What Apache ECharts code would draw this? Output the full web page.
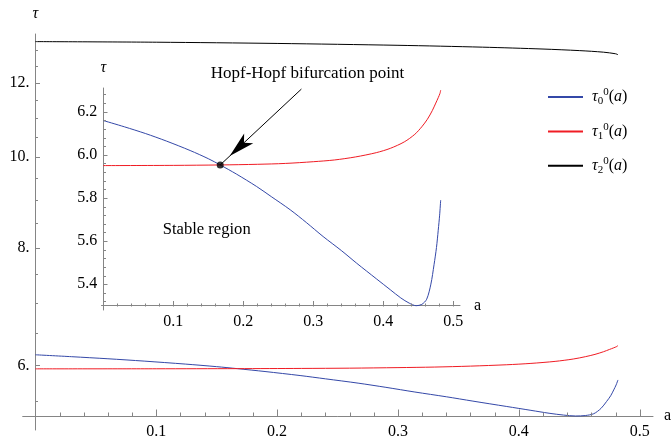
<!DOCTYPE html>
<html>
<head>
<meta charset="utf-8">
<script src="https://cdn.jsdelivr.net/npm/echarts@6.0.0/dist/echarts.min.js"></script>
<style>
  html, body { margin: 0; padding: 0; background: #ffffff; }
  #chart { width: 672px; height: 440px; }
</style>
</head>
<body>
<div id="chart"></div>
<script>
// Critical delays tau_k^0(a) as functions of the parameter a.

// tau_0^0(a)
const aTau0 = [0, 0.03, 0.06, 0.09, 0.124, 0.15, 0.167, 0.19, 0.219, 0.24, 0.267, 0.29, 0.314, 0.34,
               0.362, 0.39, 0.41, 0.425, 0.437, 0.447, 0.455, 0.462, 0.468, 0.4725, 0.476, 0.4785, 0.4805, 0.482];
const tau0  = [6.159, 6.130, 6.099, 6.064, 6.020, 5.982, 5.953, 5.911, 5.853, 5.806, 5.745, 5.686, 5.621, 5.556,
               5.497, 5.425, 5.374, 5.336, 5.312, 5.300, 5.306, 5.330, 5.400, 5.490, 5.570, 5.650, 5.720, 5.790];

// tau_1^0(a)
const aTau1 = [0, 0.1, 0.167, 0.22, 0.26, 0.3, 0.33, 0.36, 0.39, 0.41, 0.43, 0.445, 0.455, 0.463,
               0.47, 0.475, 0.4785, 0.481, 0.482];
const tau1  = [5.950, 5.951, 5.953, 5.956, 5.960, 5.968, 5.976, 5.990, 6.010, 6.030, 6.060, 6.095, 6.130, 6.165,
               6.205, 6.240, 6.265, 6.285, 6.300];

// tau_2^0(a)
const aTau2 = [0, 0.1, 0.2, 0.3, 0.37, 0.42, 0.45, 0.47, 0.48, 0.482];
const tau2  = [13.28, 13.26, 13.22, 13.16, 13.10, 13.04, 12.99, 12.94, 12.89, 12.86];

// Hopf-Hopf point (where tau_0 meets tau_1) and the tail of the arrow pointing at it
const hopfPoint = [0.167, 5.953];
const arrowTail = [0.283, 6.305];

// Tick positions
const aMajorTicks = [0.1, 0.2, 0.3, 0.4, 0.5];
const aMinorTicks = [0.02, 0.04, 0.06, 0.08, 0.12, 0.14, 0.16, 0.18, 0.22, 0.24, 0.26, 0.28,
                     0.32, 0.34, 0.36, 0.38, 0.42, 0.44, 0.46, 0.48];
const tauMajorTicks = [6, 8, 10, 12];
const tauMinorTicks = [5.5, 6.5, 7, 7.5, 8.5, 9, 9.5, 10.5, 11, 11.5, 12.5, 13];
const zoomMajorTicks = [5.4, 5.6, 5.8, 6.0, 6.2];
const zoomMinorTicks = [5.32, 5.36, 5.44, 5.48, 5.52, 5.56, 5.64, 5.68, 5.72, 5.76, 5.84, 5.88,
                        5.92, 5.96, 6.04, 6.08, 6.12, 6.16, 6.24, 6.28];

// Value of tau where the a-axis is drawn in both panels
const tauAxisBase = 5.3;

const seriesNames = ['tau0', 'tau1', 'tau2'];
const seriesIndexText = { tau0: '0', tau1: '1', tau2: '2' };

const FONT = '"Liberation Serif", "Times New Roman", serif';
const AXIS_GREY = '#858585';
const BLUE = '#3448a8';
const RED = '#f01c24';
const BLACK = '#000000';
const LABEL_SIZE = 16;

function pairs(xs, ys) { return xs.map((x, i) => [x, ys[i]]); }

function aAxis(grid, min, max, offset, nameGap) {
  return {
    gridIndex: grid, type: 'value', min: min, max: max, position: 'bottom', offset: offset,
    axisLine: { show: true, onZero: false, lineStyle: { color: AXIS_GREY, width: 1 } },
    axisTick: { show: false },
    axisLabel: { show: true, customValues: aMajorTicks, formatter: v => Number(v).toFixed(1), color: '#000',
                 fontFamily: FONT, fontSize: LABEL_SIZE, margin: 8 },
    splitLine: { show: false },
    name: 'a', nameLocation: 'end', nameGap: nameGap,
    nameTextStyle: { fontFamily: FONT, fontSize: LABEL_SIZE, color: '#000' }
  };
}
function tauAxis(grid, type, min, max, offset, labels, fmt, nameGap) {
  const ax = {
    gridIndex: grid, type: type, min: min, max: max, position: 'left', offset: offset,
    axisLine: { show: true, onZero: false, lineStyle: { color: AXIS_GREY, width: 1 } },
    axisTick: { show: false },
    axisLabel: { show: true, customValues: labels, formatter: fmt, color: '#000',
                 fontFamily: FONT, fontSize: LABEL_SIZE, margin: 6 },
    splitLine: { show: false },
    name: 'τ', nameLocation: 'end', nameGap: nameGap,
    nameTextStyle: { fontFamily: FONT, fontSize: LABEL_SIZE, fontStyle: 'italic', color: '#000' }
  };
  if (type === 'log') ax.logBase = 10;
  return ax;
}

function curve(name, xs, ys, color, axisIdx) {
  return {
    name: name, type: 'line', xAxisIndex: axisIdx, yAxisIndex: axisIdx,
    data: pairs(xs, ys), showSymbol: false, symbol: 'none', smooth: 0.3,
    lineStyle: { color: color, width: 1 }, itemStyle: { color: color },
    animation: false, silent: true
  };
}

const chart = echarts.init(document.getElementById('chart'), null, { renderer: 'canvas' });

chart.setOption({
  backgroundColor: '#ffffff',
  animation: false,
  textStyle: { fontFamily: FONT },
  grid: [
    { left: 22.7, top: 34, width: 630.3, height: 396, containLabel: false, outerBoundsMode: 'none' },
    { left: 101.5, top: 88, width: 358.5, height: 222, containLabel: false, outerBoundsMode: 'none' }
  ],
  xAxis: [
    aAxis(0, -0.0105, 0.511, -14, 11),
    aAxis(1, -0.0026, 0.5096, -4.3, 14)
  ],
  yAxis: [
    tauAxis(0, 'log', 5.121, 13.53, -12.7, tauMajorTicks, v => Math.round(v) + '.', 12),
    tauAxis(1, 'value', 5.28, 6.31, -1.8, zoomMajorTicks, v => Number(v).toFixed(1), 12)
  ],
  legend: {
    data: seriesNames,
    orient: 'vertical',
    left: 547, top: 87, padding: 0,
    itemWidth: 35, itemHeight: 14, itemGap: 14.4,
    itemStyle: { opacity: 0 },
    selectedMode: false,
    formatter: name => '{t|τ}{sub|' + seriesIndexText[name] + '}{sup|0}{p|(}{i|a}{p|)}',
    textStyle: {
      padding: [0, 0, 0, 4],
      rich: {
        t:   { fontFamily: FONT, fontSize: 16, fontStyle: 'italic', color: '#000', lineHeight: 20 },
        sub: { fontFamily: FONT, fontSize: 11, color: '#000', lineHeight: 11, verticalAlign: 'bottom' },
        sup: { fontFamily: FONT, fontSize: 11, color: '#000', lineHeight: 11, verticalAlign: 'top' },
        p:   { fontFamily: FONT, fontSize: 16, color: '#000', lineHeight: 20 },
        i:   { fontFamily: FONT, fontSize: 16, fontStyle: 'italic', color: '#000', lineHeight: 20 }
      }
    }
  },
  series: [
    curve('tau0', aTau0, tau0, BLUE, 0),
    curve('tau1', aTau1, tau1, RED, 0),
    curve('tau2', aTau2, tau2, BLACK, 0),
    curve('tau0', aTau0, tau0, BLUE, 1),
    curve('tau1', aTau1, tau1, RED, 1),
    {
      name: 'Hopf-Hopf', type: 'scatter', xAxisIndex: 1, yAxisIndex: 1,
      data: [hopfPoint], symbol: 'circle', symbolSize: 7, itemStyle: { color: '#000' },
      z: 5, silent: true, animation: false,
      markLine: {
        silent: true, animation: false,
        lineStyle: { color: '#000', width: 1, type: 'solid' },
        label: { show: false },
        emphasis: { disabled: true },
        data: [[
          { coord: arrowTail, symbol: 'none' },
          { coord: hopfPoint, symbol: 'arrow', symbolSize: [10, 26], symbolOffset: [0, 13] }
        ]]
      }
    }
  ]
});

// Inward tick marks, positioned through each grid's own scales.
// On the a-axis the ticks point up; on the tau-axis they point right.
function tickLines(gridIndex, values, dir, len) {
  const out = [];
  values.forEach(v => {
    const p = chart.convertToPixel({ gridIndex: gridIndex }, dir === 'a' ? [v, tauAxisBase] : [0, v]);
    if (!p || !isFinite(p[0]) || !isFinite(p[1])) return;
    const x = Math.round(p[0]) + 0.5;
    const y = Math.round(p[1]) + 0.5;
    out.push({
      type: 'line', silent: true, z: 10,
      shape: dir === 'a' ? { x1: x, y1: y, x2: x, y2: y - len } : { x1: x, y1: y, x2: x + len, y2: y },
      style: { stroke: AXIS_GREY, lineWidth: 1 }
    });
  });
  return out;
}

const annotations = [
  { type: 'text', x: 307.5, y: 73.3, silent: true, z: 10,
    style: { text: 'Hopf-Hopf bifurcation point', fill: '#000', font: '17px ' + FONT,
             textAlign: 'center', textVerticalAlign: 'middle' } },
  { type: 'text', x: 206.7, y: 230, silent: true, z: 10,
    style: { text: 'Stable region', fill: '#000', font: '16.6px ' + FONT,
             textAlign: 'center', textVerticalAlign: 'middle' } }
];

chart.setOption({
  graphic: annotations.concat(
    tickLines(0, aMajorTicks, 'a', 7),
    tickLines(0, aMinorTicks, 'a', 4),
    tickLines(0, tauMajorTicks, 'tau', 4.5),
    tickLines(0, tauMinorTicks, 'tau', 2.5),
    tickLines(1, aMajorTicks, 'a', 5.5),
    tickLines(1, aMinorTicks, 'a', 3),
    tickLines(1, zoomMajorTicks, 'tau', 4),
    tickLines(1, zoomMinorTicks, 'tau', 2.5)
  )
});
</script>
</body>
</html>
